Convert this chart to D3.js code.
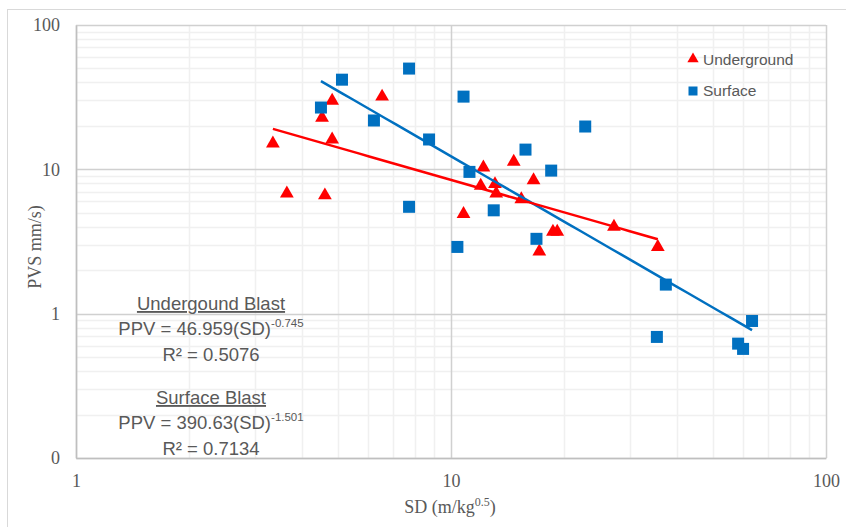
<!DOCTYPE html>
<html>
<head>
<meta charset="utf-8">
<script src="https://cdn.jsdelivr.net/npm/d3@7"></script>
<style>
  body { margin: 0; background: #fff; }
  svg { display: block; }
</style>
</head>
<body>
<script>
// underground blasts (red triangles)
var ugSD  = [3.35, 3.65, 4.61, 4.53, 4.82, 4.82, 6.55, 10.8, 12.2, 12.0, 13.1, 13.2, 14.7, 15.4, 16.6, 17.2, 18.7, 19.2, 27.2, 35.6];
var ugPPV = [15.1, 6.8, 6.6, 22.8, 29.9, 16.1, 31.9, 4.9, 10.3, 7.7, 7.9, 6.8, 11.3, 6.2, 8.4, 2.7, 3.7, 3.7, 4.0, 2.9];
// surface blasts (blue squares)
var sfSD  = [4.50, 5.12, 6.23, 7.73, 7.73, 8.74, 10.4, 10.8, 11.2, 13.0, 15.8, 16.9, 18.5, 22.8, 35.4, 37.4, 58.3, 60.1, 63.5];
var sfPPV = [26.8, 41.8, 21.8, 49.9, 5.5, 16.1, 2.9, 31.9, 9.6, 5.2, 13.7, 3.3, 9.8, 19.8, 0.69, 1.59, 0.62, 0.57, 0.89];
// power-law trend lines  PPV = a * SD^b
var ugFit = {a: 46.959, b: -0.745, r2: "0.5076"};
var sfFit = {a: 390.63, b: -1.501, r2: "0.7134"};

var xTicks = [1, 10, 100];
var yTicks = [0.1, 1, 10, 100];
var yTickLabels = ["0", "1", "10", "100"];

var W = 846, H = 527;
var red = "#ff0000", blue = "#0070c0", grey = "#595959";

var svg = d3.select("body").append("svg").attr("width", W).attr("height", H);

// chart border
svg.append("rect").attr("x", 7.5).attr("y", 9.5).attr("width", 850).attr("height", 530)
   .attr("fill", "none").attr("stroke", "#d9d9d9");

var x = d3.scaleLog().domain([1, 100]).range([76, 826]);
var y = d3.scaleLog().domain([0.1, 100]).range([458, 25]);

// minor gridlines
var minorX = [], minorY = [];
[1, 10].forEach(function(d){ for (var k = 2; k <= 9; k++) minorX.push(d * k); });
[0.1, 1, 10].forEach(function(d){ for (var k = 2; k <= 9; k++) minorY.push(d * k); });

var grid = svg.append("g");
grid.selectAll(".mx").data(minorX).enter().append("line")
    .attr("x1", d => Math.round(x(d)) + 0.5).attr("x2", d => Math.round(x(d)) + 0.5)
    .attr("y1", y(100)).attr("y2", y(0.1))
    .attr("stroke", "#f0f0f0").attr("stroke-width", 1.5);
grid.selectAll(".my").data(minorY).enter().append("line")
    .attr("y1", d => Math.round(y(d)) + 0.5).attr("y2", d => Math.round(y(d)) + 0.5)
    .attr("x1", x(1)).attr("x2", x(100))
    .attr("stroke", "#f0f0f0").attr("stroke-width", 1.5);
// major gridlines
grid.selectAll(".Mx").data(xTicks).enter().append("line")
    .attr("x1", d => Math.round(x(d)) + 0.5).attr("x2", d => Math.round(x(d)) + 0.5)
    .attr("y1", y(100)).attr("y2", y(0.1))
    .attr("stroke", "#d0d0d0").attr("stroke-width", 1.5);
grid.selectAll(".My").data(yTicks).enter().append("line")
    .attr("y1", d => Math.round(y(d)) + 0.5).attr("y2", d => Math.round(y(d)) + 0.5)
    .attr("x1", x(1)).attr("x2", x(100))
    .attr("stroke", "#d0d0d0").attr("stroke-width", 1.5);

// axes
var xAxis = d3.axisBottom(x).tickValues(xTicks).tickSize(0).tickPadding(16)
              .tickFormat(d3.format("d"));
var yAxis = d3.axisLeft(y).tickValues(yTicks).tickSize(0).tickPadding(16)
              .tickFormat((d, i) => yTickLabels[i]);
var gx = svg.append("g").attr("transform", "translate(0," + y(0.1) + ")").call(xAxis);
var gy = svg.append("g").attr("transform", "translate(" + x(1) + ",0)").call(yAxis);
[gx, gy].forEach(function(g){
  g.select(".domain").attr("stroke", "#bfbfbf").attr("stroke-width", 1.5);
  g.selectAll("text").attr("fill", grey).style("font-family", "'Liberation Serif', serif").style("font-size", "18px");
});

// axis titles
svg.append("text").attr("transform", "translate(41,247) rotate(-90)")
   .attr("text-anchor", "middle").attr("fill", grey)
   .style("font-family", "'Liberation Serif', serif").style("font-size", "18px")
   .text("PVS mm/s)");
var xt = svg.append("text").attr("x", 450).attr("y", 513).attr("text-anchor", "middle").attr("fill", grey)
   .style("font-family", "'Liberation Serif', serif").style("font-size", "18px");
xt.append("tspan").text("SD (m/kg");
xt.append("tspan").attr("dy", -7).style("font-size", "12px").text("0.5");
xt.append("tspan").attr("dy", 7).text(")");

// trend lines
function trend(sd, fit, color){
  var ext = d3.extent(sd);
  var pts = d3.range(0, 41).map(function(i){
    var s = ext[0] * Math.pow(ext[1] / ext[0], i / 40);
    return [s, fit.a * Math.pow(s, fit.b)];
  });
  svg.append("path").datum(pts)
     .attr("d", d3.line().x(d => x(d[0])).y(d => y(d[1])))
     .attr("fill", "none").attr("stroke", color).attr("stroke-width", 2.5);
}

// points
var tri = d3.symbol().type(d3.symbolTriangle).size(82);
svg.append("g").selectAll("path").data(d3.zip(ugSD, ugPPV)).enter().append("path")
   .attr("d", tri).attr("transform", d => "translate(" + x(d[0]) + "," + y(d[1]) + ")")
   .attr("fill", red);
var sq = 12;
svg.append("g").selectAll("rect").data(d3.zip(sfSD, sfPPV)).enter().append("rect")
   .attr("x", d => x(d[0]) - sq / 2).attr("y", d => y(d[1]) - sq / 2)
   .attr("width", sq).attr("height", sq).attr("fill", blue);

trend(sfSD, sfFit, blue);
trend(ugSD, ugFit, red);

// legend
var leg = svg.append("g").style("font-family", "'Liberation Sans', Arial, sans-serif").style("font-size", "15.5px");
leg.append("path").attr("d", d3.symbol().type(d3.symbolTriangle).size(55)).attr("transform", "translate(693,59)").attr("fill", red);
leg.append("text").attr("x", 703).attr("y", 65).attr("fill", grey).text("Underground");
leg.append("rect").attr("x", 688.5).attr("y", 86.5).attr("width", 9).attr("height", 9).attr("fill", blue);
leg.append("text").attr("x", 703).attr("y", 96).attr("fill", grey).text("Surface");

// equations
var eq = svg.append("g").style("font-family", "'Liberation Sans', Arial, sans-serif").style("font-size", "18.5px")
            .attr("fill", grey).attr("text-anchor", "middle");
function block(title, fit, y0){
  eq.append("text").attr("x", 211).attr("y", y0).style("text-decoration", "underline").text(title);
  var t = eq.append("text").attr("x", 211).attr("y", y0 + 25);
  t.append("tspan").text("PPV = " + fit.a + "(SD)");
  t.append("tspan").attr("dy", -8).style("font-size", "11.5px").text(fit.b.toFixed(3));
  eq.append("text").attr("x", 211).attr("y", y0 + 51).text("R\u00b2 = " + fit.r2);
}
block("Undergound Blast", ugFit, 310);
block("Surface Blast", sfFit, 404);
</script>
</body>
</html>
